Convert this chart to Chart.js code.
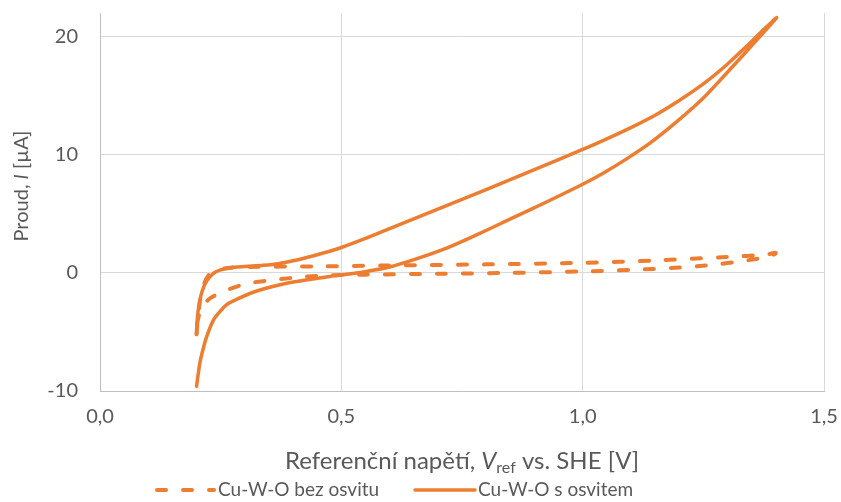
<!DOCTYPE html>
<html>
<head>
<meta charset="utf-8">
<script src="https://cdn.jsdelivr.net/npm/chart.js@4.4.1/dist/chart.umd.min.js"></script>
<style>
  html, body { margin: 0; padding: 0; background: #fff; }
  #wrap { width: 841px; height: 502px; }
</style>
</head>
<body>
<div id="wrap"><canvas id="chart" width="841" height="502"></canvas></div>
<script>
"use strict";

// Cu-W-O bez osvitu (dark) - forward scan then back
const darkX = [0.200, 0.203, 0.208, 0.215, 0.225, 0.240, 0.265, 0.300, 0.450, 0.600, 0.800, 1.000, 1.150, 1.300, 1.380, 1.400,
               1.390, 1.330, 1.270, 1.200, 1.100, 1.000, 0.850, 0.700, 0.550, 0.450, 0.400, 0.350, 0.305, 0.260, 0.230, 0.215, 0.205, 0.200];
const darkY = [-5.2, -3.7, -2.2, -1.0, -0.2, 0.2, 0.42, 0.5, 0.55, 0.63, 0.72, 0.85, 1.05, 1.35, 1.55, 1.7,
               1.42, 1.0, 0.68, 0.45, 0.25, 0.12, 0.0, -0.08, -0.15, -0.25, -0.42, -0.65, -0.9, -1.5, -2.1, -2.7, -3.6, -4.6];

// Cu-W-O s osvitem (illuminated) - forward scan then back
const lightX = [0.200, 0.202, 0.206, 0.212, 0.221, 0.235, 0.250, 0.269, 0.300, 0.338, 0.370, 0.400, 0.430, 0.463, 0.500, 0.550, 0.600, 0.700, 0.800, 0.900, 1.000, 1.050, 1.100, 1.150, 1.200, 1.250, 1.298, 1.340, 1.375, 1.402,
                1.367, 1.298, 1.250, 1.195, 1.140, 1.091, 1.045, 1.000, 0.925, 0.856, 0.787, 0.718, 0.649, 0.600, 0.560, 0.520, 0.476, 0.420, 0.373, 0.320, 0.280, 0.262, 0.248, 0.235, 0.221, 0.212, 0.207, 0.200];
const lightY = [-5.2, -3.7, -2.5, -1.5, -0.7, -0.05, 0.25, 0.42, 0.53, 0.64, 0.78, 1.02, 1.32, 1.68, 2.15, 2.92, 3.75, 5.4, 7.05, 8.75, 10.45, 11.35, 12.3, 13.35, 14.6, 16.0, 17.6, 19.2, 20.6, 21.6,
                20.0, 16.9, 14.8, 12.8, 11.0, 9.65, 8.5, 7.5, 6.0, 4.68, 3.35, 2.1, 1.1, 0.5, 0.18, -0.08, -0.3, -0.65, -1.0, -1.6, -2.3, -2.7, -3.3, -4.0, -5.4, -6.7, -7.6, -9.6];

const seriesNames = ['Cu-W-O bez osvitu', 'Cu-W-O s osvitem'];
const yTicks = [-10, 0, 10, 20];
const xTicks = [0, 0.5, 1.0, 1.5];

const ORANGE = '#ED7D31';
const TEXT = '#595959';
const FONT = 'Lato, "Open Sans", sans-serif';

function toPoints(xs, ys) {
  return xs.map((x, i) => ({ x: x, y: ys[i] }));
}

// Draws axis titles (with italic / subscript parts) and the legend
const titlesPlugin = {
  id: 'titles',
  afterDraw(chart) {
    const ctx = chart.ctx;
    const area = chart.chartArea;
    ctx.save();
    ctx.fillStyle = TEXT;
    ctx.textBaseline = 'middle';

    // x title: Referenční napětí, V_ref vs. SHE [V]
    const parts = [
      { t: 'Referenční napětí, ', f: `24px ${FONT}`, dy: 0 },
      { t: 'V', f: `italic 24px ${FONT}`, dy: 0 },
      { t: 'ref', f: `16px ${FONT}`, dy: 7 },
      { t: ' vs. SHE [V]', f: `24px ${FONT}`, dy: 0 }
    ];
    let total = 0;
    parts.forEach(p => { ctx.font = p.f; p.w = ctx.measureText(p.t).width; total += p.w; });
    let x = (area.left + area.right) / 2 - total / 2;
    const ty = 461;
    parts.forEach(p => {
      ctx.font = p.f;
      ctx.textAlign = 'left';
      ctx.fillText(p.t, x, ty + p.dy);
      x += p.w;
    });

    // y title: Proud, I [µA]
    const yparts = [
      { t: 'Proud, ', f: `20px ${FONT}` },
      { t: 'I', f: `italic 20px ${FONT}` },
      { t: ' [µA]', f: `20px ${FONT}` }
    ];
    let ytotal = 0;
    yparts.forEach(p => { ctx.font = p.f; p.w = ctx.measureText(p.t).width; ytotal += p.w; });
    ctx.translate(22, 186);
    ctx.rotate(-Math.PI / 2);
    let yx = -ytotal / 2;
    yparts.forEach(p => {
      ctx.font = p.f;
      ctx.textAlign = 'left';
      ctx.fillText(p.t, yx, 0);
      yx += p.w;
    });
    ctx.setTransform(1, 0, 0, 1, 0, 0);

    // legend
    const ly = 490;
    const items = [
      { x0: 157, x1: 214, tx: 218 },
      { x0: 415, x1: 475, tx: 478 }
    ];
    chart.data.datasets.forEach((ds, i) => {
      const it = items[i];
      ctx.strokeStyle = ds.borderColor;
      ctx.lineWidth = ds.borderWidth;
      ctx.lineCap = 'round';
      ctx.setLineDash(ds.borderDash || []);
      ctx.beginPath();
      ctx.moveTo(it.x0, ly);
      ctx.lineTo(it.x1, ly);
      ctx.stroke();
      ctx.setLineDash([]);
      ctx.font = `19px ${FONT}`;
      ctx.textAlign = 'left';
      ctx.fillStyle = TEXT;
      ctx.fillText(ds.label, it.tx, ly);
    });
    ctx.restore();
  }
};

new Chart(document.getElementById('chart'), {
  type: 'scatter',
  data: {
    datasets: [
      {
        label: seriesNames[0],
        data: toPoints(darkX, darkY),
        showLine: true,
        borderColor: ORANGE,
        borderWidth: 4,
        borderDash: [9, 17],
        borderCapStyle: 'round',
        pointRadius: 0,
        tension: 0.3
      },
      {
        label: seriesNames[1],
        data: toPoints(lightX, lightY),
        showLine: true,
        borderColor: ORANGE,
        borderWidth: 3.5,
        borderCapStyle: 'round',
        borderJoinStyle: 'round',
        pointRadius: 0,
        tension: 0.3
      }
    ]
  },
  options: {
    responsive: false,
    animation: false,
    layout: { padding: { top: 13, right: 17, left: 0, bottom: 0 } },
    plugins: {
      legend: { display: false },
      tooltip: { enabled: false }
    },
    scales: {
      x: {
        type: 'linear',
        min: 0,
        max: 1.5,
        afterBuildTicks: s => { s.ticks = xTicks.map(v => ({ value: v })); },
        afterFit: s => { s.height = 111; s.paddingLeft = 0; s.paddingRight = 0; },
        grid: { color: '#d9d9d9', lineWidth: 1, drawTicks: false },
        border: { display: true, color: '#bfbfbf', width: 1 },
        ticks: {
          padding: 14,
          color: TEXT,
          font: { family: FONT, size: 20 },
          maxRotation: 0,
          callback: v => v.toFixed(1).replace('.', ',')
        }
      },
      y: {
        type: 'linear',
        min: -10,
        max: 22,
        afterBuildTicks: s => { s.ticks = yTicks.map(v => ({ value: v })); },
        afterFit: s => { s.width = 100; s.paddingTop = 0; s.paddingBottom = 0; },
        grid: { color: '#d9d9d9', lineWidth: 1, drawTicks: false },
        border: { display: true, color: '#bfbfbf', width: 1 },
        ticks: {
          padding: 22,
          color: TEXT,
          font: { family: FONT, size: 20 },
          callback: v => String(v)
        }
      }
    }
  },
  plugins: [titlesPlugin]
});
</script>
</body>
</html>
